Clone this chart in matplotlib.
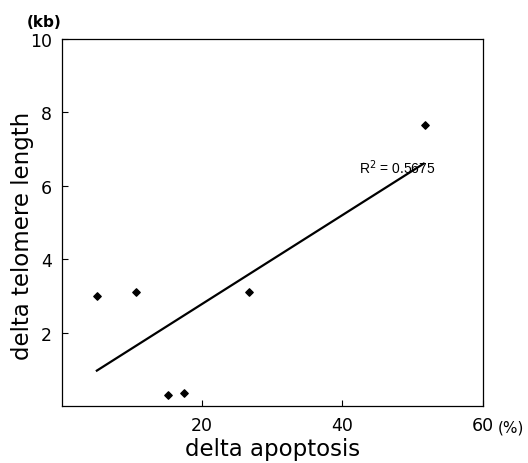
import matplotlib
matplotlib.use("Agg")
import matplotlib.pyplot as plt
import numpy as np

# values
apoptosis = np.array([5.0, 10.6, 15.2, 17.4, 26.7, 51.8])   # delta apoptosis (%)
telomere = np.array([3.0, 3.1, 0.3, 0.37, 3.1, 7.66])       # delta telomere length (kb)
r2_label = "R$^2$ = 0.5675"
x_ticks = [20, 40, 60]
y_ticks = [2, 4, 6, 8, 10]

# linear trend line
slope, intercept = np.polyfit(apoptosis, telomere, 1)
fit_x = np.array([apoptosis.min(), apoptosis.max() - 0.2])
fit_y = slope * fit_x + intercept

fig = plt.figure(figsize=(5.28, 4.64), dpi=100)
ax = fig.add_axes([0.117, 0.122, 0.797, 0.792])

ax.plot(fit_x, fit_y, color="black", lw=1.6)
ax.scatter(apoptosis, telomere, marker="D", s=14, color="black", zorder=3)

ax.set_xlim(0, 60)
ax.set_ylim(0, 10)
ax.set_xticks(x_ticks)
ax.set_yticks(y_ticks)
ax.tick_params(direction="in", length=4, width=0.8, labelsize=12.5, pad=7)
for s in ax.spines.values():
    s.set_linewidth(0.9)

ax.set_xlabel("delta apoptosis", fontsize=16.5)
ax.xaxis.label.set_va("baseline")
ax.xaxis.set_label_coords(0.5, -0.132)
ax.set_ylabel("delta telomere length", fontsize=16.5)
ax.yaxis.label.set_va("baseline")
ax.yaxis.set_label_coords(-0.079, 0.466)

ax.text(42.4, 6.52, r2_label, fontsize=10,
        family=["Liberation Sans Narrow", "Liberation Sans"],
        va="center", ha="left")
ax.text(0.0, 1.046, "(kb)", transform=ax.transAxes, fontsize=11, ha="right", va="center", weight="bold")
ax.text(1.036, -0.055, "(%)", transform=ax.transAxes, fontsize=11, ha="left", va="center")

fig.savefig("out.png", dpi=100)
